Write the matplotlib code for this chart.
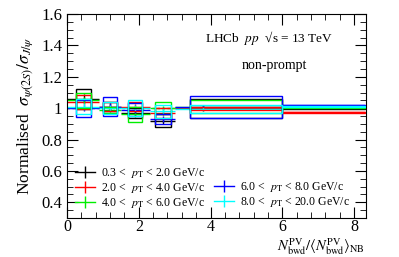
import matplotlib
matplotlib.use("Agg")
import matplotlib.pyplot as plt
import matplotlib.ticker as ticker
from matplotlib.patches import Rectangle
from matplotlib.lines import Line2D

plt.rcParams["font.family"] = ["Liberation Serif", "DejaVu Serif"]
plt.rcParams["mathtext.fontset"] = "stix"

# ── data ──────────────────────────────────────────────────────────
bin_lo = [0.0, 0.9, 1.5, 2.3, 3.0, 6.0]
bin_hi = [0.9, 1.5, 2.3, 3.0, 6.0, 8.3]
x_pts = [0.46, 1.2, 1.9, 2.67, 3.78, 7.0]
box_lo = [0.25, 1.0, 1.7, 2.44, 3.44, 6.0]
box_hi = [0.67, 1.39, 2.1, 2.89, 6.0, 8.3]

labels = [
    r"0.3 <  $p_{\rm T}$ < 2.0 GeV/c",
    r"2.0 <  $p_{\rm T}$ < 4.0 GeV/c",
    r"4.0 <  $p_{\rm T}$ < 6.0 GeV/c",
    r"6.0 <  $p_{\rm T}$ < 8.0 GeV/c",
    r"8.0 <  $p_{\rm T}$ < 20.0 GeV/c",
]
colors = ["black", "#ff0000", "#00ee00", "#0000ff", "#00ffff"]

y_pt = [
    [1.06, 1.01, 0.97, 0.92, 1.00, 1.00],   # 0.3-2
    [1.04, 1.01, 1.01, 0.97, 1.00, 0.975],  # 2-4
    [1.05, 0.99, 0.96, 1.00, 1.01, 1.005],  # 4-6
    [1.00, 1.01, 0.99, 0.93, 1.01, 1.018],  # 6-8
    [1.01, 1.00, 1.00, 0.98, 0.995, 1.01],  # 8-20
]
stat = [
    [0.03, 0.02, 0.02, 0.02, 0.02, 0.003],
    [0.02, 0.015, 0.015, 0.015, 0.01, 0.002],
    [0.02, 0.015, 0.015, 0.015, 0.01, 0.002],
    [0.02, 0.02, 0.02, 0.02, 0.01, 0.002],
    [0.02, 0.02, 0.02, 0.02, 0.01, 0.002],
]
syst = [
    [0.065, 0.03, 0.03, 0.04, 0.06, 0.003],
    [0.045, 0.03, 0.03, 0.03, 0.01, 0.003],
    [0.05, 0.02, 0.05, 0.04, 0.04, 0.003],
    [0.055, 0.06, 0.04, 0.03, 0.07, 0.003],
    [0.05, 0.04, 0.05, 0.04, 0.025, 0.003],
]

fig = plt.figure(figsize=(3.99, 2.57), dpi=100)
ax = fig.add_axes([0.168, 0.152, 0.749, 0.793])

ax.axhline(1.0, color="black", linestyle=(0, (2, 2)), linewidth=0.9, zorder=1)

for s in range(len(labels)):
    c = colors[s]
    for i in range(len(x_pts)):
        y = y_pt[s][i]
        ax.hlines(y, bin_lo[i], bin_hi[i], color=c, linewidth=1.0, zorder=2)
        ax.vlines(x_pts[i], y - stat[s][i], y + stat[s][i], color=c, linewidth=1.0, zorder=2)
        ax.add_patch(Rectangle((box_lo[i], y - syst[s][i]), box_hi[i] - box_lo[i],
                               2 * syst[s][i], fill=False, edgecolor=c, linewidth=1.0, zorder=3))

ax.set_xlim(0, 8.33)
ax.set_ylim(0.3, 1.6)
ax.xaxis.set_major_locator(ticker.MultipleLocator(2))
ax.xaxis.set_minor_locator(ticker.MultipleLocator(0.4))
ax.yaxis.set_major_locator(ticker.MultipleLocator(0.2))
ax.yaxis.set_minor_locator(ticker.MultipleLocator(0.05))
ax.yaxis.set_major_formatter(ticker.FuncFormatter(lambda v, p: f"{v:g}"))
ax.tick_params(which="both", direction="in", top=True, right=True, labelsize=12)
ax.tick_params(which="major", length=8)
ax.tick_params(which="minor", length=4)
ax.tick_params(axis="x", pad=1, labelsize=11.5)

ax.set_ylabel(r"Normalised  $\sigma_{\psi(2S)}/\sigma_{J/\psi}$", fontsize=12.5, labelpad=4)
fig.text(0.915, 0.0,
         r"$N_{\rm bwd}^{\rm PV}/\langle N_{\rm bwd}^{\rm PV}\rangle_{\rm NB}$",
         fontsize=10.5, ha="right", va="bottom")

ax.text(0.46, 0.883, r"LHCb  $pp$  √s = 13 TeV", transform=ax.transAxes,
        fontsize=9.5, va="center")
ax.text(0.585, 0.75, "non-prompt", transform=ax.transAxes, fontsize=10, va="center")

handles = [Line2D([0], [0], color=c, linewidth=1.0, marker="|", markersize=9, markeredgewidth=1.0)
           for c in colors]
blank = Line2D([0], [0], color="none")
leg_handles = [handles[0], handles[1], handles[2], blank, handles[3], handles[4]]
leg_labels = [labels[0], labels[1], labels[2], "", labels[3], labels[4]]
ax.legend(leg_handles, leg_labels, ncol=2, loc="lower left", bbox_to_anchor=(0.0, 0.0),
          frameon=False, fontsize=8.5, handlelength=1.7, handletextpad=0.5,
          columnspacing=0.7, labelspacing=0.05, borderaxespad=0.3)

fig.savefig("out.png", dpi=100)
